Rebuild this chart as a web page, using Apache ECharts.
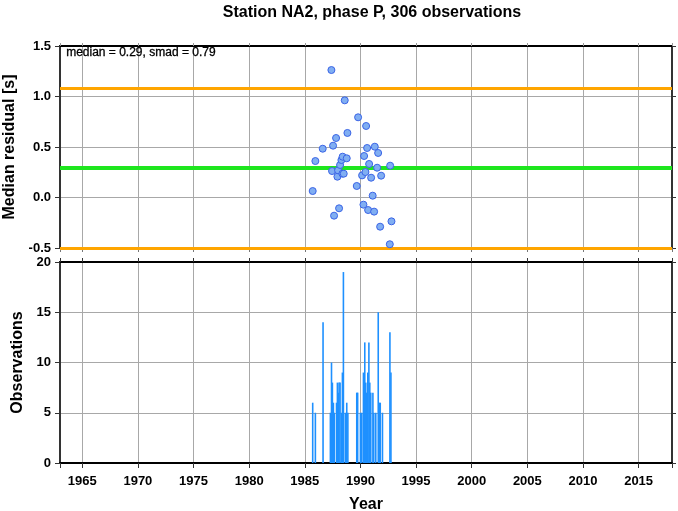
<!DOCTYPE html>
<html>
<head>
<meta charset="utf-8">
<script src="https://cdn.jsdelivr.net/npm/echarts@6/dist/echarts.min.js"></script>
<style>
html,body{margin:0;padding:0;background:#fff;}
#chart{width:678px;height:511px;}
</style>
</head>
<body>
<div id="chart"></div>
<script>
// ---- data ----
const chartTitle = 'Station NA2, phase P, 306 observations';
const median = 0.29;
const smad = 0.79;
// monthly median residuals (top panel)
const pointYears = [1985.71, 1985.95, 1986.61, 1987.39, 1987.45, 1987.54, 1987.63, 1987.81, 1987.93, 1987.99,
  1988.08, 1988.17, 1988.29, 1988.38, 1988.40, 1988.50, 1988.59, 1988.77, 1988.83, 1989.67,
  1989.79, 1990.15, 1990.27, 1990.33, 1990.45, 1990.51, 1990.60, 1990.69, 1990.78, 1990.96,
  1991.10, 1991.23, 1991.29, 1991.50, 1991.59, 1991.77, 1991.86, 1992.64, 1992.67, 1992.79];
const pointMedians = [0.064, 0.361, 0.483, 1.262, 0.262, 0.513, -0.180, 0.589, 0.206, 0.269,
  -0.107, 0.322, 0.371, 0.236, 0.404, 0.236, 0.962, 0.388, 0.639, 0.114,
  0.794, 0.219, -0.071, 0.411, 0.252, 0.708, 0.490, -0.124, 0.332, 0.196,
  0.018, -0.140, 0.503, 0.295, 0.441, -0.289, 0.216, -0.463, 0.315, -0.236];
// observations per month (bottom panel)
const binYears = [1985.71, 1985.95, 1986.64, 1987.30, 1987.40, 1987.48, 1987.57, 1987.65, 1987.85, 1987.93,
  1988.00, 1988.08, 1988.17, 1988.30, 1988.38, 1988.47, 1988.64, 1988.77, 1988.87, 1989.67,
  1989.75, 1990.00, 1990.12, 1990.27, 1990.39, 1990.48, 1990.57, 1990.66, 1990.76, 1990.84,
  1990.93, 1991.12, 1991.20, 1991.38, 1991.60, 1991.70, 1991.78, 1991.98, 1992.65, 1992.74];
const binCounts = [6, 5, 14, 5, 10, 8, 6, 5, 6, 8,
  7, 8, 8, 5, 9, 19, 5, 6, 5, 7,
  7, 5, 5, 9, 12, 8, 7, 9, 12, 8,
  7, 7, 5, 5, 15, 6, 6, 5, 13, 9];
const xMin = 1963, xMax = 2018;
const yTopTicks = ['-0.5', '0.0', '0.5', '1.0', '1.5'];

// ---- chart ----
const FONT = 'Liberation Sans, Arial, Helvetica, sans-serif';
const chart = echarts.init(document.getElementById('chart'), null, {renderer: 'canvas'});
const gridCol = '#a8a8a8';

function xAx(grid, pos, opts) {
  return Object.assign({
    gridIndex: grid, type: 'value', position: pos, min: xMin, max: xMax,
    splitNumber: 11, minInterval: 5, maxInterval: 5,
    axisLine: {show: true, onZero: false, lineStyle: {color: '#000', width: 2}},
    axisTick: {show: true, length: 4, lineStyle: {color: '#555', width: 1}},
    axisLabel: {show: false},
    splitLine: {show: false}
  }, opts);
}
function yAx(grid, pos, min, max, interval, opts) {
  return Object.assign({
    gridIndex: grid, type: 'value', position: pos, min: min, max: max, interval: interval,
    axisLine: {show: true, onZero: false, lineStyle: {color: '#333', width: 2}},
    axisTick: {show: true, length: 5, lineStyle: {color: '#333', width: 1}},
    axisLabel: {show: false},
    splitLine: {show: false}
  }, opts);
}

const option = {
  animation: false,
  backgroundColor: '#fff',
  title: {
    text: chartTitle, left: 367, top: 0, textAlign: 'center',
    textStyle: {fontFamily: FONT, fontWeight: 'bold', fontSize: 16, color: '#000'}
  },
  graphic: [{
    type: 'text', left: 66, top: 47, z: 100,
    style: {text: 'median = ' + median.toFixed(2) + ', smad = ' + smad.toFixed(2),
      font: '12px ' + FONT, fill: '#000', stroke: '#000', lineWidth: 0.3}
  }],
  grid: [
    {left: 60, right: 6, top: 46, height: 202, outerBoundsMode: 'none', containLabel: false},
    {left: 60, right: 6, top: 262, height: 201, outerBoundsMode: 'none', containLabel: false}
  ],
  xAxis: [
    xAx(0, 'bottom', {
      axisLine: {show: true, onZero: false, lineStyle: {color: '#000', width: 1}},
      axisTick: {show: true, length: 4, lineStyle: {color: '#777', width: 1}},
      splitLine: {show: true, lineStyle: {color: gridCol, width: 1}}
    }),
    xAx(0, 'top', {axisTick: {show: true, length: 3, lineStyle: {color: '#999', width: 1}}}),
    xAx(1, 'bottom', {
      name: 'Year', nameLocation: 'middle', nameGap: 34,
      nameTextStyle: {fontFamily: FONT, fontWeight: 'bold', fontSize: 16, color: '#000'},
      axisTick: {show: true, length: 5, lineStyle: {color: '#333', width: 1}},
      axisLabel: {show: true, margin: 12, fontFamily: FONT, fontWeight: 'bold', fontSize: 13, color: '#000',
        formatter: v => (Math.abs(v % 5) < 1e-6 ? String(Math.round(v)) : '')},
      splitLine: {show: true, lineStyle: {color: gridCol, width: 1}}
    }),
    xAx(1, 'top', {axisTick: {show: true, length: 4, lineStyle: {color: '#333', width: 1}}})
  ],
  yAxis: [
    yAx(0, 'left', -0.5, 1.5, 0.5, {
      name: 'Median residual [s]', nameLocation: 'middle', nameGap: 35,
      nameTextStyle: {fontFamily: FONT, fontWeight: 'bold', fontSize: 16, color: '#000'},
      axisLabel: {show: true, margin: 9, fontFamily: FONT, fontWeight: 'bold', fontSize: 13, color: '#000',
        formatter: v => yTopTicks[Math.round((v + 0.5) / 0.5)]},
      splitLine: {show: true, lineStyle: {color: gridCol, width: 1}}
    }),
    yAx(0, 'right', -0.5, 1.5, 0.5, {axisTick: {show: true, length: 4, inside: false, lineStyle: {color: '#333'}}}),
    yAx(1, 'left', 0, 20, 5, {
      name: 'Observations', nameLocation: 'middle', nameGap: 33,
      nameTextStyle: {fontFamily: FONT, fontWeight: 'bold', fontSize: 16, color: '#000'},
      axisLabel: {show: true, margin: 9, fontFamily: FONT, fontWeight: 'bold', fontSize: 13, color: '#000'},
      splitLine: {show: true, lineStyle: {color: gridCol, width: 1}}
    }),
    yAx(1, 'right', 0, 20, 5, {axisTick: {show: true, length: 4, lineStyle: {color: '#333'}}})
  ],
  series: [
    {
      type: 'line', xAxisIndex: 0, yAxisIndex: 0, data: [], z: 2, silent: true,
      markLine: {
        silent: true, symbol: 'none', label: {show: false}, animation: false,
        data: [
          {yAxis: median + smad, lineStyle: {color: '#ffa500', width: 3, type: 'solid'}},
          {yAxis: median - smad, lineStyle: {color: '#ffa500', width: 3, type: 'solid'}},
          {yAxis: median, lineStyle: {color: '#1ee61e', width: 4, type: 'solid'}}
        ]
      }
    },
    {
      type: 'scatter', xAxisIndex: 0, yAxisIndex: 0, z: 5,
      symbol: 'circle', symbolSize: 7,
      itemStyle: {color: '#80aef2', borderColor: '#3a64e6', borderWidth: 1, opacity: 1},
      data: pointYears.map((y, i) => [y, pointMedians[i]])
    },
    {
      type: 'bar', xAxisIndex: 2, yAxisIndex: 2, z: 3,
      barWidth: 1.6,
      itemStyle: {color: '#1e90ff'},
      data: binYears.map((y, i) => [y, binCounts[i]])
    }
  ]
};
chart.setOption(option);
</script>
</body>
</html>
